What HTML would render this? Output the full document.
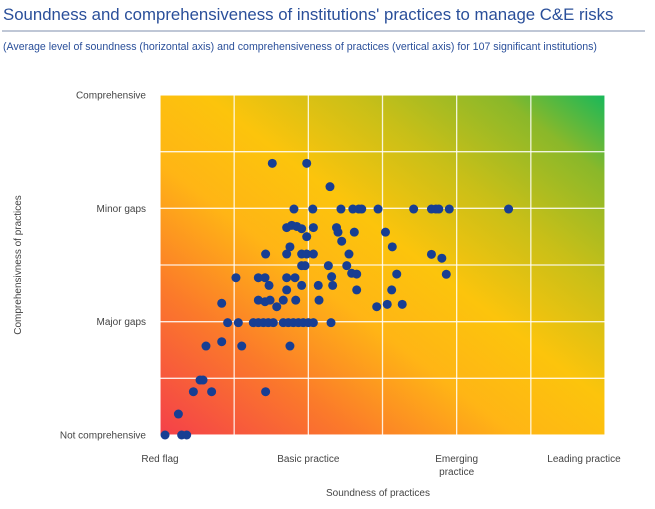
<!DOCTYPE html>
<html><head><meta charset="utf-8"><style>
body{margin:0;background:#fff;width:655px;height:504px;overflow:hidden;font-family:"Liberation Sans",sans-serif}
</style></head><body>
<svg id="chart" width="655" height="504" xmlns="http://www.w3.org/2000/svg">
<defs>
<linearGradient id="bg" x1="0" y1="1" x2="1" y2="0">
<stop offset="0" stop-color="#f4404a"/>
<stop offset="0.22" stop-color="#fb7a2a"/>
<stop offset="0.4" stop-color="#ffb515"/>
<stop offset="0.55" stop-color="#fcc40c"/>
<stop offset="0.72" stop-color="#c8bf18"/>
<stop offset="0.88" stop-color="#8ab82a"/>
<stop offset="1" stop-color="#18b85a"/>
</linearGradient>
</defs>
<text x="3" y="20" font-size="16.8" fill="#2a4f9a">Soundness and comprehensiveness of institutions' practices to manage C&amp;E risks</text>
<line x1="2" y1="31" x2="645" y2="31" stroke="#7f8fae" stroke-width="1"/>
<text x="3" y="50" font-size="10.6" fill="#2a4f9a">(Average level of soundness (horizontal axis) and comprehensiveness of practices (vertical axis) for 107 significant institutions)</text>
<rect x="160" y="95" width="445" height="340" fill="url(#bg)"/>
<g id="grid"></g>
<g id="ylabels"></g>
<g id="xlabels"></g>
<g id="dots"></g>
<text transform="translate(21,265) rotate(-90)" text-anchor="middle" font-size="10" fill="#444">Comprehensivness of practices</text>
<text x="378" y="496" text-anchor="middle" font-size="10" fill="#444">Soundness of practices</text>
</svg>
<script>
const xTickLabels=["Red flag","Basic practice","Emerging practice","Leading practice"];
const yTickLabels=["Not comprehensive","Major gaps","Minor gaps","Comprehensive"];
const soundness=[1.757,1.989,2.146,1.903,2.03,2.22,2.30,2.34,2.36,2.47,2.71,2.83,2.86,2.88,2.95,3.35,
1.854,1.888,1.922,1.955,1.989,2.034,2.19,2.20,2.31,2.52,2.225,1.876,2.566,
1.712,1.854,1.955,1.989,2.034,2.274,2.83,2.90,
1.955,1.978,2.135,2.259,
1.512,1.663,1.708,1.854,1.91,2.157,2.292,2.326,2.596,2.93,
1.735,1.955,2.067,2.164,1.854,2.326,2.562,
1.416,1.663,1.708,1.742,1.787,1.831,1.915,2.072,2.461,2.532,2.633,
1.456,1.528,1.629,1.663,1.697,1.730,1.764,1.831,1.865,1.899,1.933,1.966,2.0,2.034,2.153,
1.31,1.416,1.551,1.876,1.27,1.29,1.225,1.348,1.712,1.124,1.034,1.146,1.18];
const comprehensiveness=[3.397,3.397,3.191,2.994,2.994,2.994,2.994,2.994,2.994,2.994,2.994,2.994,2.994,2.994,2.994,2.994,
2.83,2.85,2.84,2.82,2.75,2.83,2.83,2.79,2.79,2.79,2.71,2.66,2.66,
2.597,2.597,2.597,2.597,2.597,2.597,2.594,2.56,
2.494,2.494,2.494,2.494,
2.388,2.388,2.388,2.388,2.388,2.397,2.427,2.42,2.42,2.418,
2.32,2.32,2.32,2.32,2.28,2.28,2.28,
2.162,2.19,2.176,2.19,2.132,2.19,2.19,2.19,2.132,2.153,2.153,
1.991,1.991,1.991,1.991,1.991,1.991,1.991,1.991,1.991,1.991,1.991,1.991,1.991,1.991,1.991,
1.785,1.823,1.785,1.785,1.485,1.485,1.382,1.382,1.382,1.185,1.0,1.0,1.0];
const NS="http://www.w3.org/2000/svg";
const X0=160,X1=605,Y0=435,Y1=95;
function sx(v){return X0+(v-1)/3*(X1-X0);}
function sy(v){return Y0-(v-1)/3*(Y0-Y1);}
function mk(tag,attrs,parent){const e=document.createElementNS(NS,tag);for(const k in attrs)e.setAttribute(k,attrs[k]);parent.appendChild(e);return e;}
const grid=document.getElementById('grid');
for(let i=0;i<=6;i++){const v=1+i*0.5;
 const l=mk('line',{x1:sx(v),x2:sx(v),y1:Y1,y2:Y0,stroke:'#fff','stroke-width':1.3,'stroke-opacity':0.85},grid);
 
 
 const h=mk('line',{x1:X0,x2:X1,y1:sy(v),y2:sy(v),stroke:'#fff','stroke-width':1.3,'stroke-opacity':0.85},grid);
 
 
}
const yl=document.getElementById('ylabels');
yTickLabels.forEach((t,i)=>{const e=mk('text',{x:146,y:sy(i+1)+3.5,'text-anchor':'end','font-size':10,fill:'#444'},yl);e.textContent=t;
 
 });
const xl=document.getElementById('xlabels');
xTickLabels.forEach((t,i)=>{
 const cx=i===3?584:sx(i+1);
 const e=mk('text',{x:cx,y:462,'text-anchor':'middle','font-size':10,fill:'#444'},xl);
 
 
 if(t==="Emerging practice"){e.textContent="Emerging";const e2=mk('text',{x:cx,y:475,'text-anchor':'middle','font-size':10,fill:'#444'},xl);e2.textContent="practice";
 
 }
 else e.textContent=t;
});
const dots=document.getElementById('dots');
soundness.forEach((v,i)=>{const c=mk('circle',{cx:sx(v),cy:sy(comprehensiveness[i]),r:4.5,fill:'#173e93'},dots);
 
 });
</script>
</body></html>
